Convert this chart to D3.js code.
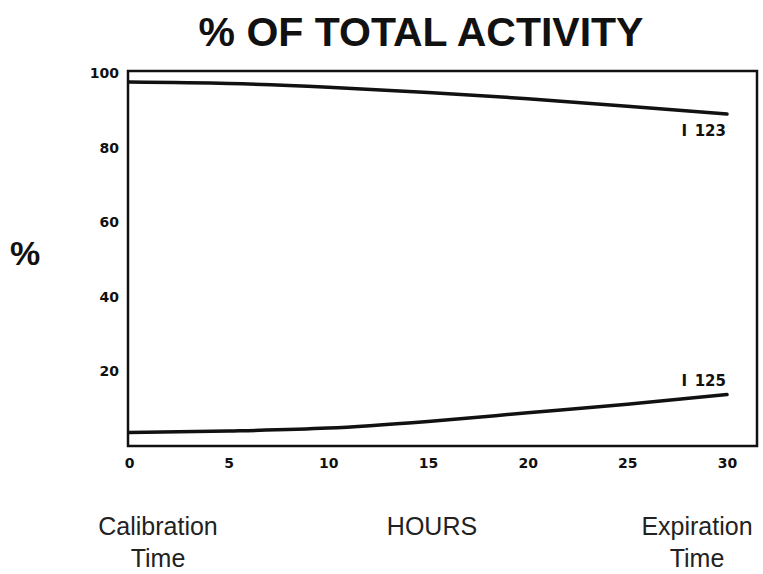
<!DOCTYPE html>
<html>
<head>
<meta charset="utf-8">
<script src="https://cdn.jsdelivr.net/npm/d3@7"></script>
<style>
  body { margin: 0; background: #fff; }
  svg { display: block; }
</style>
</head>
<body>
<svg id="chart"></svg>
<script>
// data
let hours = [0, 5, 10, 15, 20, 25, 30];
let i123 = [97.6, 97.2, 96.2, 94.8, 93.1, 91.1, 89.0];
let i125 = [3.6, 4.0, 4.8, 6.6, 8.9, 11.2, 13.8];
let yTicks = [20, 40, 60, 80, 100];
let xTicks = [0, 5, 10, 15, 20, 25, 30];

function makeChart() {
	let w = 763;
	let h = 574;

	let chart = d3.select('#chart')
		.attr('width', w)
		.attr('height', h);

	let left = 128, right = 757, top = 71, bottom = 446;

	let x = d3.scaleLinear()
		.domain([0, 30])
		.range([129, 727]);
	let y = d3.scaleLinear()
		.domain([0, 100])
		.range([bottom, 73]);

	// frame
	chart.append('rect')
		.attr('x', left)
		.attr('y', top)
		.attr('width', right - left)
		.attr('height', bottom - top)
		.style('fill', 'none')
		.style('stroke', '#111')
		.style('stroke-width', 2.5);

	let xAxis = d3.axisBottom(x)
		.tickValues(xTicks)
		.tickSize(0)
		.tickPadding(12);
	let gx = chart.append('g')
		.attr('transform', `translate(0,${bottom})`)
		.call(xAxis);
	gx.select('.domain').remove();

	let yAxis = d3.axisLeft(y)
		.tickValues(yTicks)
		.tickSize(0)
		.tickPadding(9);
	let gy = chart.append('g')
		.attr('transform', `translate(${left},0)`)
		.call(yAxis);
	gy.select('.domain').remove();

	chart.selectAll('.tick text')
		.style('font-family', 'DejaVu Sans')
		.style('font-weight', 'bold')
		.style('font-size', '14px')
		.style('fill', '#111');

	let line = d3.line()
		.x(d => x(d[0]))
		.y(d => y(d[1]))
		.curve(d3.curveMonotoneX);

	let series = [
		{ name: 'I\u2002123', values: i123, dy: 22 },
		{ name: 'I\u2002125', values: i125, dy: -9 }
	];

	chart.selectAll('path.series')
		.data(series)
		.enter()
		.append('path')
		.attr('class', 'series')
		.attr('d', d => line(d3.zip(hours, d.values)))
		.style('fill', 'none')
		.style('stroke', '#111')
		.style('stroke-width', 3.5)
		.style('stroke-linecap', 'round');

	chart.selectAll('text.lab')
		.data(series)
		.enter()
		.append('text')
		.attr('class', 'lab')
		.attr('x', x(30) - 1)
		.attr('y', d => y(d.values[d.values.length - 1]) + d.dy)
		.attr('text-anchor', 'end')
		.style('font-family', 'DejaVu Sans')
		.style('font-weight', 'bold')
		.style('font-size', '15px')
		.style('fill', '#111')
		.text(d => d.name);

	chart.append('text')
		.attr('x', 421)
		.attr('y', 46)
		.attr('text-anchor', 'middle')
		.style('font-family', 'Liberation Sans')
		.style('font-weight', 'bold')
		.style('font-size', '41px')
		.style('fill', '#111')
		.text('% OF TOTAL ACTIVITY');

	chart.append('text')
		.attr('x', 25)
		.attr('y', 265)
		.attr('text-anchor', 'middle')
		.style('font-family', 'Liberation Sans')
		.style('font-weight', 'bold')
		.style('font-size', '34px')
		.style('fill', '#111')
		.text('%');

	let bottomLabels = [
		{ x: 158, lines: ['Calibration', 'Time'] },
		{ x: 432, lines: ['HOURS'] },
		{ x: 697, lines: ['Expiration', 'Time'] }
	];
	bottomLabels.forEach(b => {
		let t = chart.append('text')
			.attr('text-anchor', 'middle')
			.style('font-family', 'Liberation Sans')
			.style('font-size', '25px')
			.style('fill', '#222');
		b.lines.forEach((s, i) => {
			t.append('tspan')
				.attr('x', b.x)
				.attr('y', 535 + i * 32)
				.text(s);
		});
	});
}

window.onload = makeChart;
</script>
</body>
</html>
